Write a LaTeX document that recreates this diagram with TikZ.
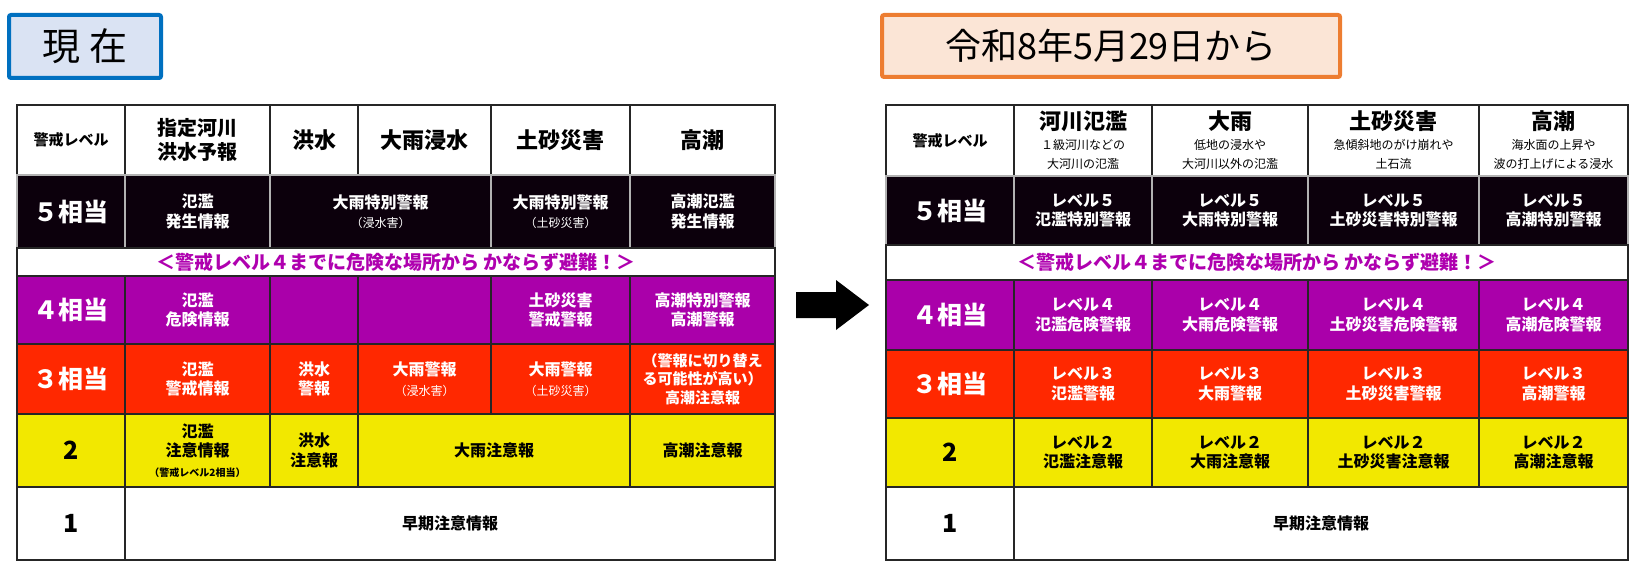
\documentclass[tikz,border=0pt]{standalone}
\usepackage{fontspec}
\setmainfont{Noto Sans CJK JP}
\definecolor{blk}{RGB}{12,0,12}
\definecolor{pur}{RGB}{170,0,170}
\definecolor{red3}{RGB}{255,40,0}
\definecolor{yel}{RGB}{242,232,0}
\definecolor{mag}{RGB}{175,0,175}
\definecolor{bluB}{RGB}{0,112,192}
\definecolor{bluF}{RGB}{218,227,243}
\definecolor{orB}{RGB}{237,125,49}
\definecolor{orF}{RGB}{251,229,214}
\newcommand\fs[1]{\pgfmathsetmacro\mylsk{#1*1.22}\fontsize{#1}{\mylsk}\selectfont}
\newcommand\mycell[7]{\node[cell,#6,minimum width=#4pt-#2pt,minimum height=#5pt-#3pt] (#1) at ({(#2+#4)/2},{(#3+#5)/2}) {#7};}
\tikzset{
 cell/.style={draw=black!85,line width=1.2pt,inner sep=0pt,outer sep=0pt,align=center,font=\bfseries\fs{16},text=black,fill=white},
 bk/.style={fill=blk,text=white,draw=white!70!black},
 pu/.style={fill=pur,text=white},
 rd/.style={fill=red3,text=white},
 ye/.style={fill=yel,text=black},
 wh/.style={fill=white,text=black},
 lab/.style={font=\bfseries\fs{25}},
 hd/.style={font=\bfseries\fs{22}},
 band/.style={fill=white,text=mag,font=\bfseries\fs{19}},
}
\newcommand\sm[1]{{\mdseries\fs{12}#1}}
\begin{document}
\begin{tikzpicture}[x=1pt,y=-1pt]
\useasboundingbox (0,0) rectangle (1651,575);
% titles
\node[draw=bluB,line width=4pt,fill=bluF,rounded corners=2pt,minimum width=152pt,minimum height=63pt,font=\fs{38}] (t1) at (85,46.5) {現 在};
\node[draw=orB,line width=4pt,fill=orF,rounded corners=2pt,minimum width=458pt,minimum height=62pt,font=\fs{36}] (t2) at (1111,46) {令和8年5月29日から};
% arrow
\fill[black] (796,292) -- (836,292) -- (836,280) -- (869,305) -- (836,330) -- (836,318) -- (796,318) -- cycle;
% ---------- left table
\mycell{L00}{17}{105}{125}{175}{wh}{\fs{15}警戒レベル}
\mycell{L01}{125}{105}{270}{175}{wh,hd,font=\bfseries\fs{20}}{指定河川\\洪水予報}
\mycell{L02}{270}{105}{358}{175}{wh,hd}{洪水}
\mycell{L03}{358}{105}{491}{175}{wh,hd}{大雨浸水}
\mycell{L04}{491}{105}{630}{175}{wh,hd}{土砂災害}
\mycell{L05}{630}{105}{775}{175}{wh,hd}{高潮}
\mycell{L10}{17}{175}{125}{248}{bk,lab}{５相当}
\mycell{L11}{125}{175}{270}{248}{bk}{氾濫\\発生情報}
\mycell{L12}{270}{175}{491}{248}{bk}{大雨特別警報\\\sm{（浸水害）}}
\mycell{L13}{491}{175}{630}{248}{bk}{大雨特別警報\\\sm{（土砂災害）}}
\mycell{L14}{630}{175}{775}{248}{bk}{高潮氾濫\\発生情報}
\mycell{LB}{17}{248}{775}{276}{band}{＜警戒レベル４までに危険な場所から かならず避難！＞}
\mycell{L20}{17}{276}{125}{344}{pu,lab}{４相当}
\mycell{L21}{125}{276}{270}{344}{pu}{氾濫\\危険情報}
\mycell{L22}{270}{276}{358}{344}{pu}{}
\mycell{L23}{358}{276}{491}{344}{pu}{}
\mycell{L24}{491}{276}{630}{344}{pu}{土砂災害\\警戒警報}
\mycell{L25}{630}{276}{775}{344}{pu}{高潮特別警報\\高潮警報}
\mycell{L30}{17}{344}{125}{414}{rd,lab}{３相当}
\mycell{L31}{125}{344}{270}{414}{rd}{氾濫\\警戒情報}
\mycell{L32}{270}{344}{358}{414}{rd}{洪水\\警報}
\mycell{L33}{358}{344}{491}{414}{rd}{大雨警報\\\sm{（浸水害）}}
\mycell{L34}{491}{344}{630}{414}{rd}{大雨警報\\\sm{（土砂災害）}}
\mycell{L35}{630}{344}{775}{414}{rd,font=\bfseries\fs{15}}{（警報に切り替え\\る可能性が高い）\\高潮注意報}
\mycell{L40}{17}{414}{125}{487}{ye,lab}{2}
\mycell{L41}{125}{414}{270}{487}{ye}{氾濫\\注意情報\\{\fs{10}（警戒レベル2相当）}}
\mycell{L42}{270}{414}{358}{487}{ye}{洪水\\注意報}
\mycell{L43}{358}{414}{630}{487}{ye}{大雨注意報}
\mycell{L44}{630}{414}{775}{487}{ye}{高潮注意報}
\mycell{L50}{17}{487}{125}{560}{wh,lab}{1}
\mycell{L51}{125}{487}{775}{560}{wh}{早期注意情報}
% ---------- right table
\mycell{R00}{886}{105}{1014}{176}{wh}{\fs{15}警戒レベル}
\mycell{R01}{1014}{105}{1152}{176}{wh}{{\fs{22}河川氾濫}\\\sm{１級河川などの}\\\sm{大河川の氾濫}}
\mycell{R02}{1152}{105}{1308}{176}{wh}{{\fs{22}大雨}\\\sm{低地の浸水や}\\\sm{大河川以外の氾濫}}
\mycell{R03}{1308}{105}{1479}{176}{wh}{{\fs{22}土砂災害}\\\sm{急傾斜地のがけ崩れや}\\\sm{土石流}}
\mycell{R04}{1479}{105}{1628}{176}{wh}{{\fs{22}高潮}\\\sm{海水面の上昇や}\\\sm{波の打上げによる浸水}}
\mycell{R10}{886}{176}{1014}{245}{bk,lab}{５相当}
\mycell{R11}{1014}{176}{1152}{245}{bk}{レベル５\\氾濫特別警報}
\mycell{R12}{1152}{176}{1308}{245}{bk}{レベル５\\大雨特別警報}
\mycell{R13}{1308}{176}{1479}{245}{bk}{レベル５\\土砂災害特別警報}
\mycell{R14}{1479}{176}{1628}{245}{bk}{レベル５\\高潮特別警報}
\mycell{RB}{886}{245}{1628}{280}{band}{＜警戒レベル４までに危険な場所から かならず避難！＞}
\mycell{R20}{886}{280}{1014}{350}{pu,lab}{４相当}
\mycell{R21}{1014}{280}{1152}{350}{pu}{レベル４\\氾濫危険警報}
\mycell{R22}{1152}{280}{1308}{350}{pu}{レベル４\\大雨危険警報}
\mycell{R23}{1308}{280}{1479}{350}{pu}{レベル４\\土砂災害危険警報}
\mycell{R24}{1479}{280}{1628}{350}{pu}{レベル４\\高潮危険警報}
\mycell{R30}{886}{350}{1014}{418}{rd,lab}{３相当}
\mycell{R31}{1014}{350}{1152}{418}{rd}{レベル３\\氾濫警報}
\mycell{R32}{1152}{350}{1308}{418}{rd}{レベル３\\大雨警報}
\mycell{R33}{1308}{350}{1479}{418}{rd}{レベル３\\土砂災害警報}
\mycell{R34}{1479}{350}{1628}{418}{rd}{レベル３\\高潮警報}
\mycell{R40}{886}{418}{1014}{487}{ye,lab}{2}
\mycell{R41}{1014}{418}{1152}{487}{ye}{レベル２\\氾濫注意報}
\mycell{R42}{1152}{418}{1308}{487}{ye}{レベル２\\大雨注意報}
\mycell{R43}{1308}{418}{1479}{487}{ye}{レベル２\\土砂災害注意報}
\mycell{R44}{1479}{418}{1628}{487}{ye}{レベル２\\高潮注意報}
\mycell{R50}{886}{487}{1014}{560}{wh,lab}{1}
\mycell{R51}{1014}{487}{1628}{560}{wh}{早期注意情報}
\end{tikzpicture}
\end{document}
